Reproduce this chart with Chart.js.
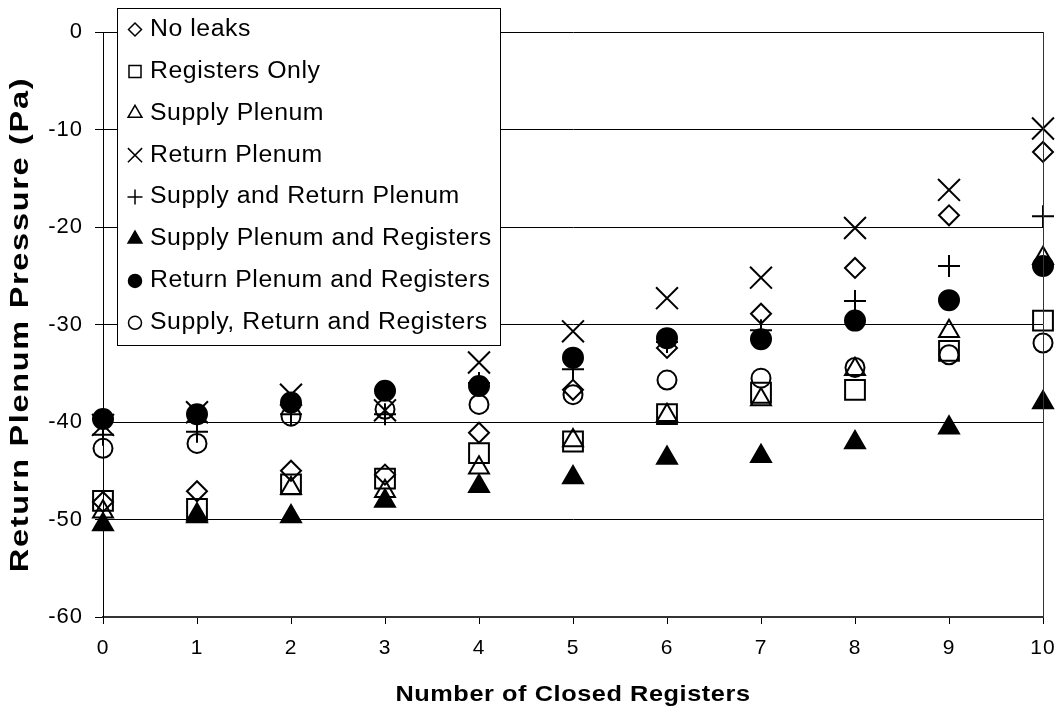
<!DOCTYPE html>
<html>
<head>
<meta charset="utf-8">
<title>Return Plenum Pressure vs Closed Registers</title>
<script src="https://cdn.jsdelivr.net/npm/chart.js@4.4.1/dist/chart.umd.min.js"></script>
<style>
    html, body { margin: 0; padding: 0; background: #fff; }
    #pressureChart { display: block; }
</style>
</head>
<body>
<canvas id="pressureChart" width="1062" height="720"></canvas>
<script>
// number of closed registers (x axis)
const closedRegisters = [0, 1, 2, 3, 4, 5, 6, 7, 8, 9, 10];

// return plenum pressure in Pa, one array per leak case
const noLeaks               = [-48.2, -47.1, -45.0, -45.4, -41.1, -36.7, -32.4, -28.9, -24.2, -18.8, -12.3];
const registersOnly         = [-48.1, -48.9, -46.4, -45.8, -43.2, -42.0, -39.2, -37.0, -36.7, -32.7, -29.6];
const supplyPlenum          = [-49.2, -49.5, -46.8, -47.1, -44.7, -41.9, -39.3, -37.7, -34.6, -30.7, -23.2];
const returnPlenum          = [-40.3, -39.0, -37.2, -38.8, -33.9, -30.7, -27.3, -25.2, -20.1, -16.2, -9.9];
const supplyReturnPlenum    = [-41.3, -41.0, -39.2, -39.2, -36.0, -34.6, -31.8, -30.6, -27.6, -24.0, -18.9];
const supplyPlenumRegisters = [-50.5, -49.7, -49.7, -48.1, -46.6, -45.7, -43.7, -43.5, -42.1, -40.6, -38.0];
const returnPlenumRegisters = [-39.7, -39.2, -38.0, -36.8, -36.3, -33.4, -31.4, -31.5, -29.6, -27.5, -24.0];
const supplyReturnRegisters = [-42.7, -42.2, -39.4, -38.7, -38.2, -37.2, -35.7, -35.5, -34.4, -33.1, -31.9];

const seriesNames = [
    'No leaks',
    'Registers Only',
    'Supply Plenum',
    'Return Plenum',
    'Supply and Return Plenum',
    'Supply Plenum and Registers',
    'Return Plenum and Registers',
    'Supply, Return and Registers'
];
const seriesValues = [
    noLeaks, registersOnly, supplyPlenum, returnPlenum,
    supplyReturnPlenum, supplyPlenumRegisters, returnPlenumRegisters, supplyReturnRegisters
];

const yMin = -60;
const yMax = 0;
const yStep = 10;

// marker look per series (style, plot radius, legend radius, filled)
const markerStyles = ['rectRot', 'rect', 'triangle', 'crossRot', 'cross', 'triangle', 'circle', 'circle'];
const markerRadius = [10, 14, 11.5, 15.5, 11, 11.5, 10, 9.5];
const legendRadius = [6.5, 8.5, 8, 10, 7.5, 8, 6.5, 6.5];
const markerFilled = [false, false, false, false, false, true, true, false];

const datasets = seriesNames.map((name, i) => ({
    label: name,
    data: closedRegisters.map((x, j) => ({ x: x, y: seriesValues[i][j] })),
    pointStyle: markerStyles[i],
    pointRadius: markerRadius[i],
    pointHoverRadius: markerRadius[i],
    pointBorderWidth: 2,
    pointBorderColor: '#000',
    pointBackgroundColor: markerFilled[i] ? '#000' : 'rgba(0,0,0,0)',
    showLine: false,
    clip: false,
    order: seriesNames.length - i   // later series on top, like the original
}));

const fontFamily = '"Liberation Sans", Arial, sans-serif';

// text a bit wider than the font, like the old export
function wideText(ctx, text, x, y, font, stretch, spacing, align) {
    ctx.save();
    ctx.translate(x, y);
    ctx.scale(stretch, 1);
    ctx.font = font;
    ctx.letterSpacing = spacing + 'px';
    ctx.fillStyle = '#000';
    ctx.textAlign = align || 'left';
    ctx.textBaseline = 'middle';
    ctx.fillText(text, 0, 0);
    ctx.restore();
}

const chartDecor = {
    id: 'chartDecor',
    beforeDraw(chart) {
        chart.ctx.letterSpacing = '1px';
    },
    afterDraw(chart) {
        const ctx = chart.ctx;
        const area = chart.chartArea;
        const helpers = Chart.helpers;

        // right frame line of the plot area
        ctx.save();
        ctx.strokeStyle = '#333';
        ctx.lineWidth = 1;
        ctx.beginPath();
        ctx.moveTo(area.right + 0.5, area.top);
        ctx.lineTo(area.right + 0.5, area.bottom);
        ctx.stroke();
        ctx.restore();

        // axis titles
        wideText(ctx, 'Number of Closed Registers', (area.left + area.right) / 2, 695,
            'bold 22px ' + fontFamily, 1.15, 0.5, 'center');
        ctx.save();
        ctx.translate(21, (area.top + area.bottom) / 2);
        ctx.rotate(-Math.PI / 2);
        wideText(ctx, 'Return Plenum Pressure (Pa)', 0, 0,
            'bold 25px ' + fontFamily, 1.3, 1.3, 'center');
        ctx.restore();

        // legend box
        const boxLeft = area.left + 14;
        const boxTop = 8;
        const boxWidth = 383;
        const rowHeight = 41.9;
        const boxHeight = 337;
        ctx.save();
        ctx.fillStyle = '#fff';
        ctx.fillRect(boxLeft, boxTop, boxWidth, boxHeight);
        ctx.strokeStyle = '#000';
        ctx.lineWidth = 1;
        ctx.strokeRect(boxLeft + 0.5, boxTop + 0.5, boxWidth, boxHeight);
        ctx.restore();

        seriesNames.forEach((name, i) => {
            const cy = boxTop + 21.5 + i * rowHeight;
            ctx.save();
            ctx.strokeStyle = '#000';
            ctx.fillStyle = markerFilled[i] ? '#000' : 'rgba(0,0,0,0)';
            ctx.lineWidth = 1.5;
            helpers.drawPoint(ctx, {
                pointStyle: markerStyles[i],
                radius: legendRadius[i],
                borderWidth: 1.5,
                rotation: 0
            }, boxLeft + 18, cy);
            ctx.restore();
            wideText(ctx, name, boxLeft + 33, cy, '23px ' + fontFamily, 1.08, 0.5);
        });
    }
};

const ctx = document.getElementById('pressureChart').getContext('2d');
const pressureChart = new Chart(ctx, {
    type: 'scatter',
    data: { datasets: datasets },
    options: {
        responsive: false,
        animation: false,
        events: [],
        layout: {
            padding: { top: 32, right: 19, left: 0, bottom: 0 }
        },
        plugins: {
            legend: { display: false },
            tooltip: { enabled: false },
            title: { display: false }
        },
        scales: {
            x: {
                type: 'linear',
                min: 0,
                max: 10,
                afterFit: function(scale) {
                    scale.height = 103;
                    scale.paddingLeft = 0;
                    scale.paddingRight = 0;
                },
                ticks: {
                    stepSize: 1,
                    color: '#000',
                    padding: 12,
                    font: { family: fontFamily, size: 21 }
                },
                grid: {
                    drawOnChartArea: false,
                    drawTicks: true,
                    tickLength: 7,
                    color: '#000'
                },
                border: { color: '#333', width: 2 }
            },
            y: {
                min: yMin,
                max: yMax,
                afterFit: function(scale) {
                    scale.width = 103;
                    scale.paddingTop = 0;
                    scale.paddingBottom = 0;
                },
                ticks: {
                    stepSize: yStep,
                    color: '#000',
                    padding: 12,
                    font: { family: fontFamily, size: 22 }
                },
                grid: {
                    color: '#000',
                    lineWidth: 1,
                    tickLength: 8
                },
                border: { color: '#000', width: 1 }
            }
        }
    },
    plugins: [chartDecor]
});
</script>
</body>
</html>
